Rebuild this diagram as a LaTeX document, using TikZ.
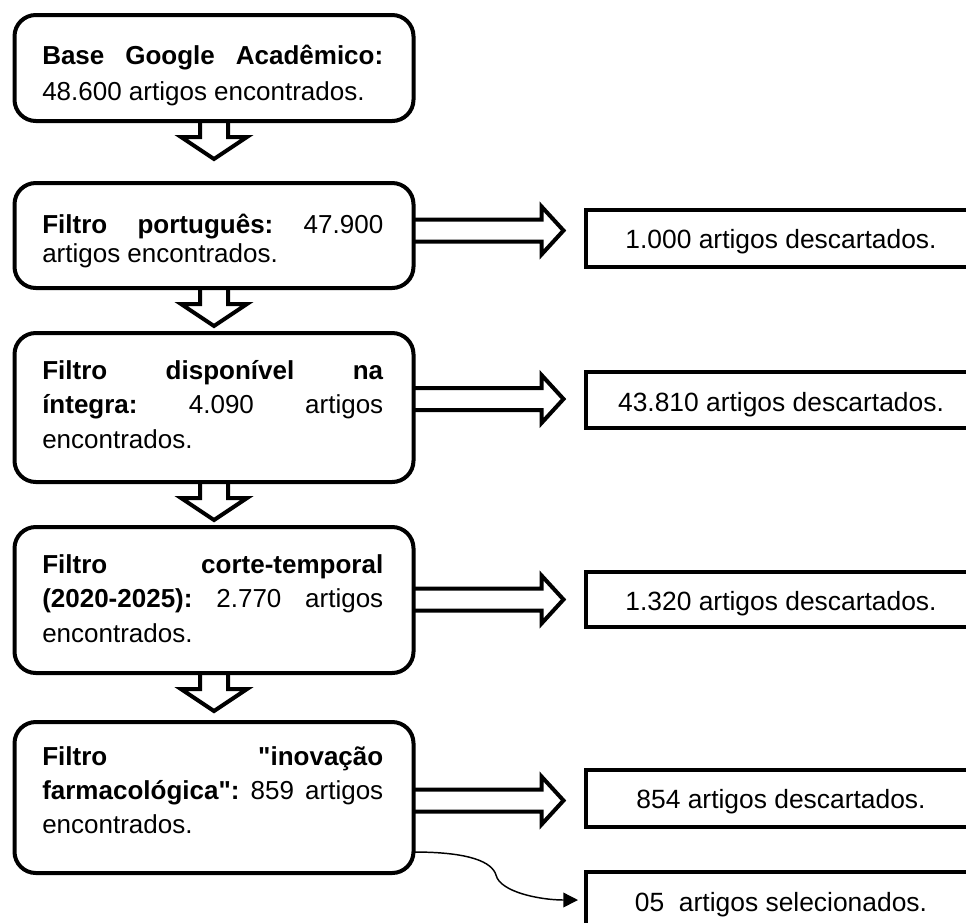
\documentclass[tikz,border=0pt]{standalone}
\usepackage{fontspec}
\setmainfont{Liberation Sans}
\usetikzlibrary{arrows.meta,calc}
\pgfdeclarelayer{background}
\pgfsetlayers{background,main}
\tikzset{
  stage/.style={draw, line width=3pt, rounded corners=16pt, fill=white,
    minimum width=399*0.75pt, inner sep=0pt, outer sep=0pt},
  outcome/.style={draw, line width=3pt, fill=white, minimum width=420*0.75pt,
    inner sep=0pt, outer sep=0pt, anchor=west},
  blockarrow/.style={draw, line width=3pt, fill=white, line join=miter},
  linetext/.style={anchor=base west, inner sep=0pt, font=\fontsize{19.5pt}{23pt}\selectfont},
  outtext/.style={anchor=base, inner sep=0pt, font=\fontsize{19.8pt}{23pt}\selectfont},
  thinarrow/.style={line width=1.1pt, -{Triangle[length=11pt,width=11pt]}},
}
% a line set flush to both margins of the stage boxes
\newcommand\fullline[1]{\hbox to 255.75pt{#1}}
\begin{document}
\begin{tikzpicture}[x=0.75pt,y=-0.75pt]
\useasboundingbox (0,0) rectangle (966,922);
\clip (0,0) rectangle (966,922);

% stages of the search
\node[stage, minimum height=106*0.75pt] (b1) at (214,68) {};
\node[stage, minimum height=105*0.75pt] (b2) at (214,235.5) {};
\node[stage, minimum height=149*0.75pt] (b3) at (214,407.5) {};
\node[stage, minimum height=146*0.75pt] (b4) at (214,600) {};
\node[stage, minimum height=151*0.75pt] (b5) at (214,797.5) {};

% results on the right
\node[outcome, minimum height=57*0.75pt] (r1) at (586,238.5) {};
\node[outcome, minimum height=56*0.75pt] (r2) at (586,400) {};
\node[outcome, minimum height=55*0.75pt] (r3) at (586,599.5) {};
\node[outcome, minimum height=57*0.75pt] (r4) at (586,798.5) {};
\node[outcome, minimum height=68*0.75pt] (r5) at (586,906) {};

% stage texts
\node[linetext] (t1a) at (42,64) {\fullline{\textbf{Base}\hfill\textbf{Google}\hfill\textbf{Acadêmico:}}};
\node[linetext] (t1b) at (42,100) {48.600 artigos encontrados.};

\node[linetext] (t2a) at (42,233) {\fullline{\textbf{Filtro}\hfill\textbf{português:}\hfill 47.900}};
\node[linetext] (t2b) at (42,262) {artigos encontrados.};

\node[linetext] (t3a) at (42,379) {\fullline{\textbf{Filtro}\hfill\textbf{disponível}\hfill\textbf{na}}};
\node[linetext] (t3b) at (42,413) {\fullline{\textbf{íntegra:}\hfill 4.090\hfill artigos}};
\node[linetext] (t3c) at (42,448) {encontrados.};

\node[linetext] (t4a) at (42,573) {\fullline{\textbf{Filtro}\hfill\textbf{corte-temporal}}};
\node[linetext] (t4b) at (42,607) {\fullline{\textbf{(2020-2025):}\hfill 2.770\hfill artigos}};
\node[linetext] (t4c) at (42,642) {encontrados.};

\node[linetext] (t5a) at (42,765) {\fullline{\textbf{Filtro}\hfill\textbf{\textquotedbl inovação}}};
\node[linetext] (t5b) at (42,799) {\fullline{\textbf{farmacológica\textquotedbl:}\hfill 859\hfill artigos}};
\node[linetext] (t5c) at (42,833) {encontrados.};

% result texts
\node[outtext] (u1) at (781,248) {1.000 artigos descartados.};
\node[outtext] (u2) at (781,411) {43.810 artigos descartados.};
\node[outtext] (u3) at (781,610) {1.320 artigos descartados.};
\node[outtext] (u4) at (781,808) {854 artigos descartados.};
\node[outtext] (u5) at (781,911) {05\ \ artigos selecionados.};

\begin{pgfonlayer}{background}
  \fill[white] (0,0) rectangle (966,922);
  % hollow arrows between the stages
  \foreach \a in {b1,b2,b3,b4}{
    \draw[blockarrow] ([shift={(-14,0)}]\a.south) -- ([shift={(-14,16)}]\a.south)
      -- ([shift={(-33,16)}]\a.south) -- ([shift={(0,38)}]\a.south)
      -- ([shift={(33,16)}]\a.south) -- ([shift={(14,16)}]\a.south)
      -- ([shift={(14,0)}]\a.south);
  }
  % hollow arrows towards the discarded counts
  \foreach \a/\r/\d in {b2/r1/-8,b3/r2/-1,b4/r3/0,b5/r4/2}{
    \coordinate (s) at ($(\a.east |- \r.west)+(0,\d)$);
    \draw[blockarrow] ([shift={(0,-11)}]s) -- ([shift={(128,-11)}]s)
      -- ([shift={(128,-24)}]s) -- ([shift={(150,0)}]s)
      -- ([shift={(128,24)}]s) -- ([shift={(128,11)}]s)
      -- ([shift={(0,11)}]s);
  }
\end{pgfonlayer}

% link to the selected articles
\coordinate (c5) at ($(b5.south east)+(0,-21)$);
\coordinate (c6) at ($(r5.west)+(-8,-6)$);
\draw[thinarrow] (c5) .. controls (470,852) and (492,862) .. (496,875)
  .. controls (500,892) and (540,900) .. (c6);
\end{tikzpicture}
\end{document}
